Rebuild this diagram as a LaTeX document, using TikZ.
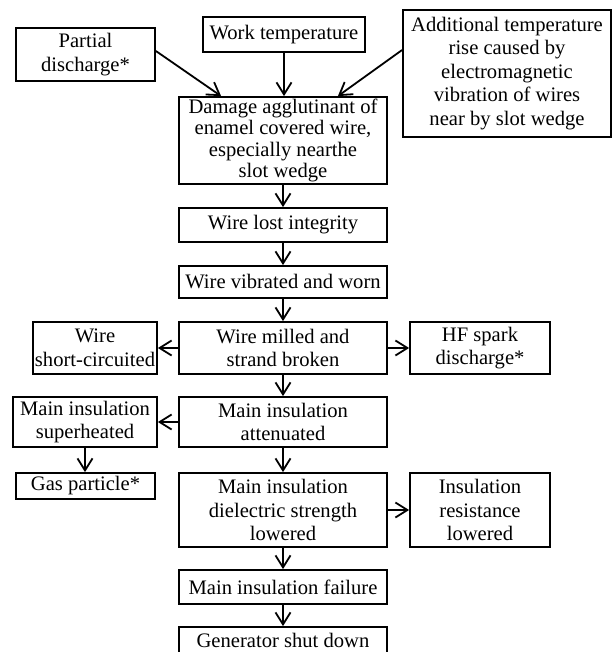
\documentclass[tikz,border=0pt]{standalone}
\usepackage{fontspec}
\setmainfont{Liberation Serif}
\usetikzlibrary{arrows.meta}
\tikzset{
  box/.style={draw, line width=1.8pt, inner sep=0pt, align=center,
    font=\fontsize{20.6}{23.5}\selectfont},
  flow/.style={line width=1.8pt, -{Straight Barb[length=12pt,width=15pt,line width=1.8pt]}}
}
\begin{document}
\begin{tikzpicture}[x=1pt,y=-1pt]
\useasboundingbox (0,0) rectangle (612,652);
% top row
\node[box, minimum width=139pt, minimum height=53pt] (partial) at (85.5,54.5) {Partial\\discharge*};
\node[box, minimum width=162pt, minimum height=35pt] (work) at (284,34.5) {Work temperature};
\node[box, minimum width=208pt, minimum height=127pt] (add) at (507,73.5) {Additional temperature\\rise caused by\\electromagnetic\\vibration of wires\\near by slot wedge};
% main column
\node[box, minimum width=208pt, minimum height=87pt, font=\fontsize{20.6}{21.5}\selectfont] (damage) at (283,140.5) {Damage agglutinant of\\enamel covered wire,\\especially nearthe\\slot wedge};
\node[box, minimum width=208pt, minimum height=34pt] (lost) at (283,225) {Wire lost integrity};
\node[box, minimum width=208pt, minimum height=32pt] (vib) at (283,282) {Wire vibrated and worn};
\node[box, minimum width=208pt, minimum height=52pt] (milled) at (283,348) {Wire milled and\\strand broken};
\node[box, minimum width=208pt, minimum height=50pt] (atten) at (283,422) {Main insulation\\attenuated};
\node[box, minimum width=208pt, minimum height=74pt] (diel) at (283,510) {Main insulation\\dielectric strength\\lowered};
\node[box, minimum width=208pt, minimum height=34pt] (fail) at (283,587) {Main insulation failure};
\node[box, minimum width=208pt, minimum height=27pt] (gen) at (283,640.5) {Generator shut down};
% side boxes
\node[box, minimum width=124pt, minimum height=52pt] (short) at (95,348) {Wire\\short-circuited};
\node[box, minimum width=140pt, minimum height=52pt] (hf) at (480,348) {HF spark\\discharge*};
\node[box, minimum width=144pt, minimum height=50pt] (super) at (85,422) {Main insulation\\superheated};
\node[box, minimum width=139pt, minimum height=26pt] (gas) at (85.5,486) {Gas particle*};
\node[box, minimum width=140pt, minimum height=74pt] (insres) at (480,510) {Insulation\\resistance\\lowered};
% connectors
\draw[flow] ([yshift=3.5pt]partial.east) -- ([xshift=43pt]damage.north west);
\draw[flow] (work.south) -- (work.south |- damage.north);
\draw[flow] ([yshift=23.5pt]add.west) -- ([xshift=-50pt]damage.north east);
\draw[flow] (damage) -- (lost);
\draw[flow] (lost) -- (vib);
\draw[flow] (vib) -- (milled);
\draw[flow] (milled) -- (short);
\draw[flow] (milled) -- (hf);
\draw[flow] (milled) -- (atten);
\draw[flow] (atten) -- (super);
\draw[flow] (super.south) -- (super.south |- gas.north);
\draw[flow] (atten) -- (diel);
\draw[flow] (diel) -- (insres);
\draw[flow] (diel) -- (fail);
\draw[flow] (fail) -- (gen);
\end{tikzpicture}
\end{document}
